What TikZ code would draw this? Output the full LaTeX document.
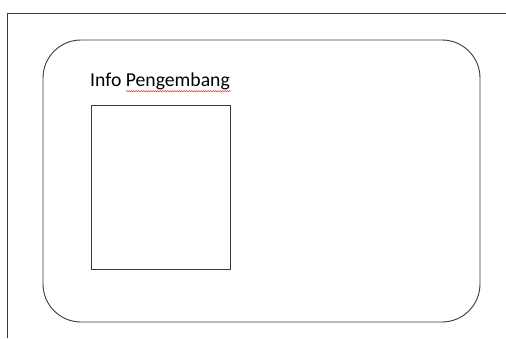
\documentclass[tikz,border=0pt]{standalone}
\usepackage{fontspec}
\setmainfont{Carlito}
\usetikzlibrary{decorations.pathmorphing}
\definecolor{lineclr}{HTML}{3A3A3A}
\definecolor{spellred}{HTML}{E04040}
\tikzset{
  frame/.style={draw=lineclr, line width=0.9pt},
  card/.style={draw=lineclr, line width=0.9pt, rounded corners=38pt, minimum width=437pt, minimum height=282pt, inner sep=0pt},
  photo/.style={draw=lineclr, line width=0.9pt, minimum width=139pt, minimum height=164pt, inner sep=0pt},
  title/.style={inner sep=0pt, anchor=base west, font=\fontsize{19.7}{22}\selectfont},
  squiggle/.style={draw=spellred, line width=0.5pt, decorate, decoration={snake, amplitude=0.7pt, segment length=2.4pt}}
}
\begin{document}
\begin{tikzpicture}[x=1pt,y=-1pt]
\useasboundingbox (0,0) rectangle (506,338);
\coordinate (tl) at (7,13.5);
\coordinate (tr) at (506,13.5);
\coordinate (bl) at (7,338);
\draw[frame] (tr) -- (tl) -- (bl);
\node[card] (card) at (261.5,181) {};
\node[photo] (photo) at (160.5,187) {};
\node[title] (title) at (90,86.5) {Info Pengembang};
\coordinate (u1) at (126,91.2);
\coordinate (u2) at (231,91.2);
\draw[squiggle] (u1) -- (u2);
\end{tikzpicture}
\end{document}
